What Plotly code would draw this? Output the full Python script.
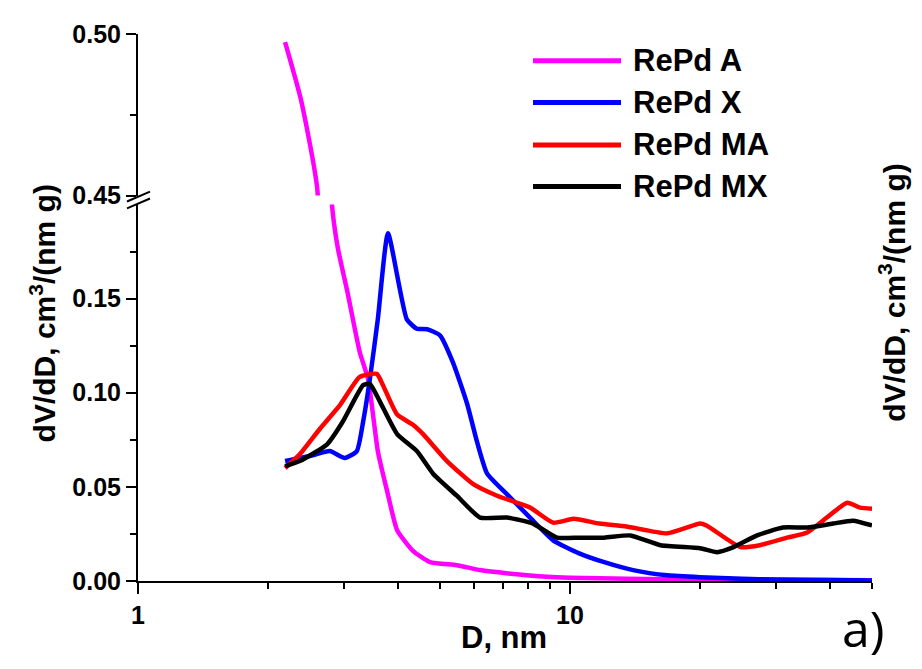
import plotly.graph_objects as go
from plotly.subplots import make_subplots

# ---------------- data ----------------
series_names = ["RePd A", "RePd X", "RePd MA", "RePd MX"]
series_colors = ["#FF00FF", "#0000FF", "#FF0000", "#000000"]

a_x = [2.19, 2.38, 2.60, 2.70, 2.81, 2.90, 3.05, 3.26, 3.41, 3.59, 3.77, 3.98,
       4.33, 4.74, 5.47, 6.19, 7.2, 8.85, 10.0, 13.5, 20, 30, 40, 50]
a_y = [0.4975, 0.480, 0.452, 0.33, 0.2005, 0.177, 0.154, 0.1216, 0.107, 0.069,
       0.048, 0.027, 0.016, 0.010, 0.0084, 0.0058, 0.004, 0.0022, 0.0017, 0.0012,
       0.0008, 0.0006, 0.0005, 0.0004]

x_x = [2.19, 2.54, 2.78, 3.01, 3.21, 3.32, 3.44, 3.59, 3.79, 4.19, 4.42, 4.67,
       5.00, 5.36, 5.78, 6.09, 6.43, 7.15, 8.08, 9.14, 10.5, 12.0, 14.0, 16.8,
       20, 25, 30, 40, 50]
x_y = [0.0637, 0.0668, 0.069, 0.0653, 0.069, 0.0847, 0.107, 0.139, 0.1847, 0.139,
       0.134, 0.1337, 0.1305, 0.116, 0.094, 0.074, 0.057, 0.046, 0.0337, 0.0216,
       0.0147, 0.010, 0.0058, 0.003, 0.002, 0.0012, 0.0008, 0.0005, 0.0003]

ma_x = [2.19, 2.37, 2.64, 2.94, 3.26, 3.57, 3.69, 3.98, 4.33, 4.57, 5.19, 5.96,
        6.78, 8.08, 9.14, 10.2, 11.7, 13.5, 16.8, 20.0, 20.7, 24.8, 27.5, 31.8,
        35.4, 39.3, 43.8, 46.9, 50]
ma_y = [0.060, 0.0674, 0.081, 0.0937, 0.1084, 0.110, 0.104, 0.0884, 0.083, 0.078,
        0.0637, 0.0516, 0.0453, 0.039, 0.031, 0.033, 0.0305, 0.029, 0.0253, 0.0305,
        0.0295, 0.018, 0.019, 0.023, 0.0258, 0.0337, 0.0416, 0.039, 0.0384]

mx_x = [2.19, 2.37, 2.74, 2.98, 3.32, 3.44, 3.63, 3.98, 4.42, 4.82, 5.47, 6.19,
        7.15, 8.21, 9.33, 10.5, 12.0, 13.8, 16.2, 20.0, 21.9, 23.9, 27.1, 31.1,
        35.4, 40.6, 45.2, 50]
mx_y = [0.061, 0.0637, 0.0726, 0.0847, 0.104, 0.1047, 0.0953, 0.078, 0.069, 0.057,
        0.0453, 0.0337, 0.0337, 0.0305, 0.023, 0.023, 0.023, 0.0242, 0.019, 0.0174,
        0.0153, 0.018, 0.0242, 0.0284, 0.0284, 0.0305, 0.032, 0.0295]

series_x = [a_x, x_x, ma_x, mx_x]
series_y = [a_y, x_y, ma_y, mx_y]

x_major_ticks = [1, 10]
x_major_labels = ["1", "10"]
x_minor_ticks = [2, 3, 4, 5, 6, 7, 8, 9, 20, 30, 40, 50]
low_major_ticks = [0.0, 0.05, 0.10, 0.15]
low_major_labels = ["0.00", "0.05", "0.10", "0.15"]
low_minor_ticks = [0.025, 0.075, 0.125, 0.175]
up_major_ticks = [0.45, 0.50]
up_major_labels = ["0.45", "0.50"]
up_minor_ticks = [0.475]

x_title = "D, nm"
y_title = "dV/dD, cm<sup>3</sup>/(nm g)"
panel_label = "a)"

# ---------------- layout geometry ----------------
# page body has an 8px margin, so the figure is offset by (8, 8)
OFF = 8
W, H = 922 - OFF, 669 - OFF
L, R, T, B = 138, 872, 29, 581          # target plot box in window pixels
PW, PH = R - L, B - T

def px(x):
    return (x - L) / PW

def py(y):
    return (B - y) / PH

low_top = py(201)
up_bottom = py(192)

FONT = "Liberation Sans, Arial, Helvetica, sans-serif"

fig = make_subplots(rows=2, cols=1, shared_xaxes=True, vertical_spacing=0.0)

for nm, col, xs, ys in zip(series_names, series_colors, series_x, series_y):
    fig.add_trace(go.Scatter(x=xs, y=ys, mode="lines", name=nm,
                             line=dict(color=col, width=4.5, shape="spline", smoothing=0.5),
                             showlegend=False), row=2, col=1)
    if max(ys) > 0.2:
        fig.add_trace(go.Scatter(x=xs, y=ys, mode="lines", name=nm,
                                 line=dict(color=col, width=4.5, shape="spline", smoothing=0.5),
                                 showlegend=False), row=1, col=1)

tickfont = dict(family=FONT, size=25, color="black", weight="bold")

fig.update_layout(
    width=W, height=H, autosize=False,
    margin=dict(l=L - OFF, r=W - (R - OFF), t=T - OFF, b=H - (B - OFF)),
    paper_bgcolor="white", plot_bgcolor="white",
    showlegend=False,
    xaxis=dict(domain=[0, 1], type="log", range=[0, 1.69897], showline=False,
               showticklabels=False, ticks="", showgrid=False, zeroline=False,
               matches="x2"),
    yaxis=dict(domain=[up_bottom, 1], range=[0.45, 0.50], showline=True,
               linecolor="black", linewidth=2, ticks="outside", ticklen=10,
               tickwidth=2, tickcolor="black", tickmode="array",
               tickvals=up_major_ticks, ticktext=up_major_labels,
               tickfont=tickfont, showgrid=False, zeroline=False,
               minor=dict(tickmode="array", tickvals=up_minor_ticks,
                          ticks="outside", ticklen=6, tickwidth=2,
                          tickcolor="black", showgrid=False)),
    xaxis2=dict(domain=[0, 1], type="log", range=[0, 1.69897], showline=True,
                linecolor="black", linewidth=2, ticks="outside", ticklen=11,
                tickwidth=2, tickcolor="black", tickmode="array",
                tickvals=x_major_ticks, ticktext=x_major_labels,
                tickfont=tickfont, showgrid=False, zeroline=False,
                minor=dict(tickmode="array", tickvals=x_minor_ticks,
                           ticks="outside", ticklen=6, tickwidth=2,
                           tickcolor="black", showgrid=False)),
    yaxis2=dict(domain=[0, low_top], range=[0, 0.2], showline=True,
                linecolor="black", linewidth=2, ticks="outside", ticklen=10,
                tickwidth=2, tickcolor="black", tickmode="array",
                tickvals=low_major_ticks, ticktext=low_major_labels,
                tickfont=tickfont, showgrid=False, zeroline=False,
                minor=dict(tickmode="array", tickvals=low_minor_ticks,
                           ticks="outside", ticklen=6, tickwidth=2,
                           tickcolor="black", showgrid=False)),
)

# axis break marks
for y0 in (198, 205):
    fig.add_shape(type="line", xref="paper", yref="paper",
                  x0=px(127), y0=py(y0), x1=px(150), y1=py(y0 - 10),
                  line=dict(color="black", width=2))

# custom legend
leg_y = [56, 98, 141, 183]
for nm, col, yy in zip(series_names, series_colors, leg_y):
    fig.add_shape(type="line", xref="paper", yref="paper",
                  x0=px(533), x1=px(621), y0=py(yy), y1=py(yy),
                  line=dict(color=col, width=5))
    fig.add_annotation(xref="paper", yref="paper", x=px(631), y=py(yy),
                       text=nm, showarrow=False, xanchor="left", yanchor="middle",
                       font=dict(family=FONT, size=31, color="black", weight="bold"))

titlefont = dict(family=FONT, size=31, color="black", weight="bold")
ytitlefont = dict(family=FONT, size=30, color="black", weight="bold")
fig.add_annotation(xref="paper", yref="paper", x=px(504), y=py(638), text=x_title,
                   showarrow=False, xanchor="center", yanchor="middle", font=titlefont)
fig.add_annotation(xref="paper", yref="paper", x=px(43), y=py(311), text=y_title,
                   showarrow=False, textangle=-90, xanchor="center", yanchor="middle",
                   font=ytitlefont)
fig.add_annotation(xref="paper", yref="paper", x=px(892), y=py(290), text=y_title,
                   showarrow=False, textangle=-90, xanchor="center", yanchor="middle",
                   font=ytitlefont)
fig.add_annotation(xref="paper", yref="paper", x=px(863), y=py(628), text=panel_label,
                   showarrow=False, xanchor="center", yanchor="middle",
                   font=dict(family="Open Sans, sans-serif", size=50, color="black"))

fig.write_html("out.html")
